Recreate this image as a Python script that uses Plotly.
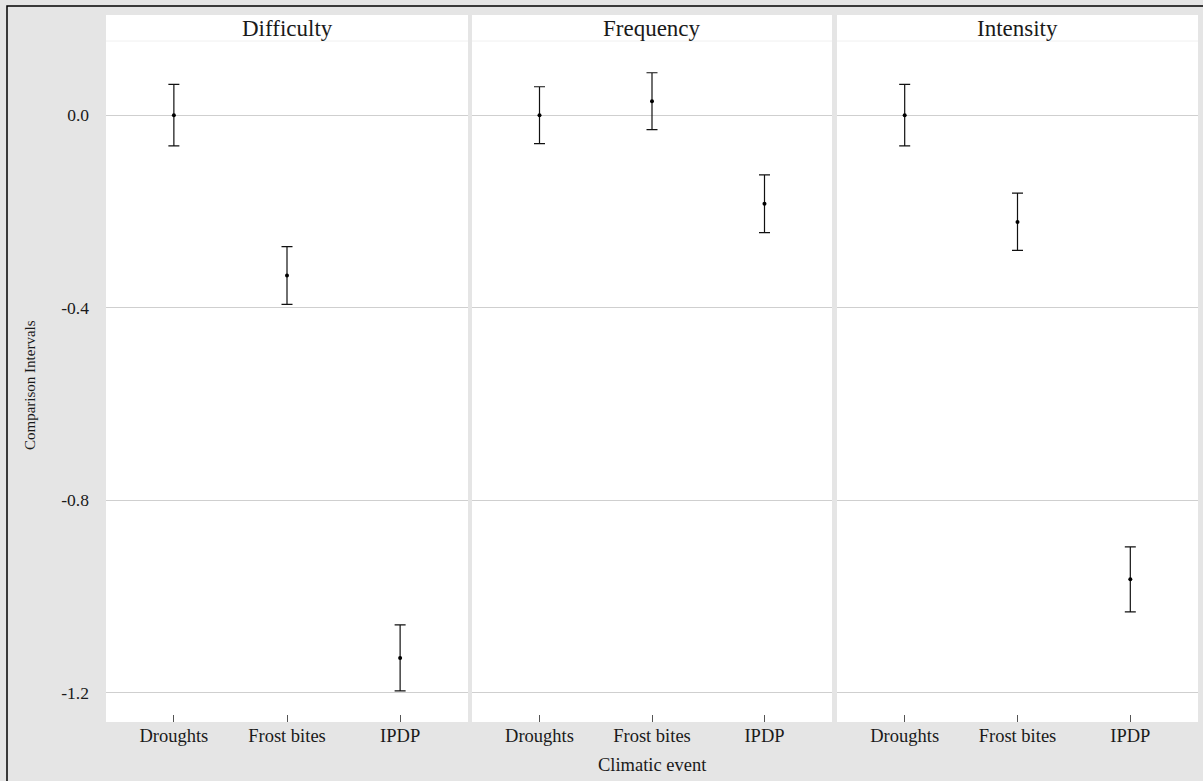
import plotly.graph_objects as go

# ---- data ----
panels = ["Difficulty", "Frequency", "Intensity"]
events = ["Droughts", "Frost bites", "IPDP"]
estimate = {
    "Difficulty": [0.0, -0.333, -1.128],
    "Frequency": [0.0, 0.029, -0.184],
    "Intensity": [0.0, -0.222, -0.964],
}
lower = {
    "Difficulty": [-0.064, -0.393, -1.196],
    "Frequency": [-0.059, -0.030, -0.244],
    "Intensity": [-0.064, -0.281, -1.032],
}
upper = {
    "Difficulty": [0.064, -0.273, -1.059],
    "Frequency": [0.059, 0.088, -0.124],
    "Intensity": [0.064, -0.162, -0.897],
}
y_tickvals = [0.0, -0.4, -0.8, -1.2]
y_ticktext = ["0.0", "-0.4", "-0.8", "-1.2"]

W, H = 1203, 781
FONT = "Liberation Serif"

def px_x(x):
    return x / W

def px_y(y):
    return (H - y) / H

x_domains = [(106, 468), (472, 832), (837, 1198)]
y_top, y_bot = 41, 722
strip_top = 15

fig = go.Figure()

for i, p in enumerate(panels):
    est = estimate[p]
    plus = [u - e for u, e in zip(upper[p], est)]
    minus = [e - l for e, l in zip(est, lower[p])]
    fig.add_trace(go.Scatter(
        x=events, y=est,
        mode="markers",
        marker=dict(color="black", size=4),
        error_y=dict(type="data", array=plus, arrayminus=minus,
                     color="#111111", thickness=1.2, width=5.5),
        xaxis=f"x{i+1}" if i else "x",
        yaxis=f"y{i+1}" if i else "y",
        showlegend=False,
        hoverinfo="x+y",
    ))

layout = dict(
    width=W, height=H,
    margin=dict(l=0, r=0, t=0, b=0),
    paper_bgcolor="#e5e5e5",
    plot_bgcolor="white",
    font=dict(family=FONT, color="black"),
    showlegend=False,
)

yrange = [-1.2608, 0.1540]
for i, (x0, x1) in enumerate(x_domains):
    xa = "xaxis" if i == 0 else f"xaxis{i+1}"
    ya = "yaxis" if i == 0 else f"yaxis{i+1}"
    layout[xa] = dict(
        domain=[px_x(x0), px_x(x1)],
        anchor="y" if i == 0 else f"y{i+1}",
        type="category",
        categoryorder="array", categoryarray=events,
        range=[-0.6, 2.6],
        showgrid=False, zeroline=False, showline=False,
        ticks="inside", ticklen=7, tickwidth=1, tickcolor="#555555",
        tickfont=dict(family=FONT, size=18.5, color="#1a1a1a"),
        fixedrange=True,
    )
    layout[ya] = dict(
        domain=[px_y(y_bot), px_y(y_top)],
        anchor="x" if i == 0 else f"x{i+1}",
        range=yrange,
        tickvals=y_tickvals, ticktext=y_ticktext,
        showticklabels=(i == 0),
        showgrid=True, gridcolor="#cfcfcf", gridwidth=1.2,
        zeroline=False, showline=False, ticks="",
        ticklabelstandoff=16,
        tickfont=dict(family=FONT, size=17.5, color="#1a1a1a"),
        fixedrange=True,
    )

shapes = []
annotations = []
for (x0, x1), p in zip(x_domains, panels):
    shapes.append(dict(type="rect", xref="paper", yref="paper",
                       x0=px_x(x0), x1=px_x(x1), y0=px_y(y_top), y1=px_y(strip_top),
                       fillcolor="white", line=dict(width=0), layer="below"))
    shapes.append(dict(type="line", xref="paper", yref="paper",
                       x0=px_x(x0), x1=px_x(x1), y0=px_y(y_top), y1=px_y(y_top),
                       line=dict(color="#f0f0f0", width=1)))
    annotations.append(dict(text=p, xref="paper", yref="paper",
                            x=px_x((x0 + x1) / 2), y=px_y(28),
                            xanchor="center", yanchor="middle", showarrow=False,
                            font=dict(family=FONT, size=23, color="#1a1a1a")))

# outer border
shapes.append(dict(type="rect", xref="paper", yref="paper",
                   x0=px_x(7), x1=1.02, y0=-0.02, y1=px_y(6),
                   line=dict(color="black", width=1.5), fillcolor="rgba(0,0,0,0)"))

annotations.append(dict(text="Climatic event", xref="paper", yref="paper",
                        x=px_x(652), y=px_y(765), xanchor="center", yanchor="middle",
                        showarrow=False, font=dict(family=FONT, size=18.5, color="#1a1a1a")))
annotations.append(dict(text="Comparison Intervals", xref="paper", yref="paper",
                        x=px_x(30), y=px_y(385), xanchor="center", yanchor="middle",
                        textangle=-90, showarrow=False,
                        font=dict(family=FONT, size=15, color="#1a1a1a")))

layout["shapes"] = shapes
layout["annotations"] = annotations
fig.update_layout(**layout)

fig.write_html("out.html")
